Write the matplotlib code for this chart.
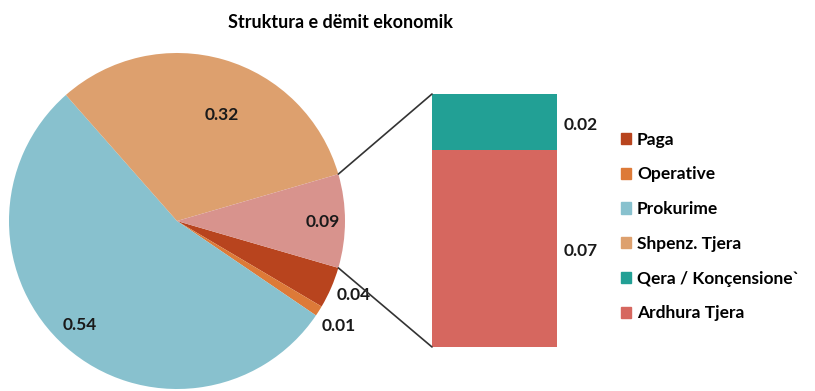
import numpy as np
import matplotlib.pyplot as plt
from matplotlib.patches import ConnectionPatch, Patch

plt.rcParams['font.family'] = ['Lato', 'DejaVu Sans']
plt.rcParams['font.weight'] = 'bold'

# pie: the last slice groups the two "other" items shown in the bar
pie_labels = ['Paga', 'Operative', 'Prokurime', 'Shpenz. Tjera']
pie_values = [0.04, 0.01, 0.54, 0.32]
pie_colors = ['#B8441E', '#DD7A38', '#88C1CE', '#DDA06E']
other_color = '#D8938D'

bar_labels = ['Ardhura Tjera', 'Qera / Konçensione`']
bar_values = [0.07, 0.02]
bar_colors = ['#D6675F', '#22A095']

other_total = sum(bar_values)
values = pie_values + [other_total]
colors = pie_colors + [other_color]

fig = plt.figure(figsize=(8.15, 3.91), dpi=100)
ax = fig.add_axes([9/815, 2/391, 336/815, 336/391])
bax = fig.add_axes([432/815, 44/391, 125/815, 253/391])

half = other_total * 360 / 2
wedges, _ = ax.pie(values, colors=colors, startangle=-half, counterclock=False,
                   radius=1, wedgeprops=dict(linewidth=0))
ax.set_xlim(-1, 1)
ax.set_ylim(-1, 1)
ax.set_aspect('equal')
ax.axis('off')

# value labels on the pie
label_pos = [(1.054, -0.44), (0.964, -0.625), (-0.577, -0.619), (0.268, 0.631), (0.869, -0.006)]
for v, (x, y) in zip(values, label_pos):
    ax.text(x, y, '%.2f' % v, ha='center', va='center', fontsize=12.5, color='#1a1a1a')

# stacked bar for the grouped slice
bottom = 0
for v, c in zip(bar_values, bar_colors):
    bax.bar(0.5, v, width=1, bottom=bottom, color=c, linewidth=0)
    bax.annotate('%.2f' % v, (1.19, bottom + v / 2), xytext=(0, -2), textcoords='offset points',
                 ha='center', va='center', fontsize=12.5, color='#1a1a1a',
                 annotation_clip=False)
    bottom += v
bax.set_xlim(0, 1)
bax.set_ylim(0, other_total)
bax.axis('off')

# connector lines from the slice edges to the bar corners
for ang, yb in [(half, other_total), (-half, 0)]:
    t = np.deg2rad(ang)
    con = ConnectionPatch(xyA=(np.cos(t), np.sin(t)), coordsA=ax.transData,
                          xyB=(0, yb), coordsB=bax.transData,
                          color='#333333', linewidth=1.2)
    fig.add_artist(con)

handles = [Patch(color=c) for c in pie_colors + bar_colors[::-1]]
names = pie_labels + bar_labels[::-1]
fig.legend(handles, names, loc='upper left', bbox_to_anchor=(605/815, 1 - 116/391),
           frameon=False, fontsize=12.5, handlelength=0.6, handleheight=0.6,
           handletextpad=0.35, labelspacing=1.08)

fig.text(340/815, 1 - 22/391, 'Struktura e dëmit ekonomik', ha='center', va='center',
         fontsize=13, fontweight='bold')

fig.savefig('out.png', dpi=100)
